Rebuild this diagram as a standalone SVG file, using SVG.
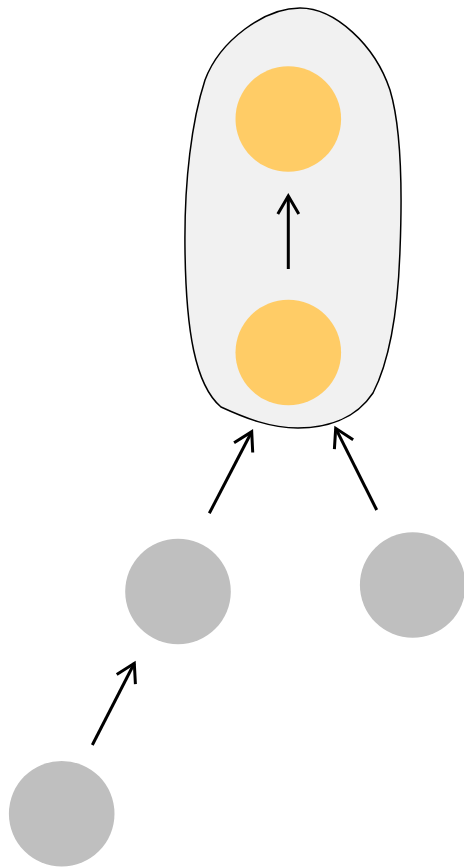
<svg xmlns="http://www.w3.org/2000/svg" width="464" height="867" viewBox="0 0 464 867">
<style>
.yellow{fill:#ffcc66}
.gray{fill:#bfbfbf}
.blob{fill:#f1f1f1;stroke:#000;stroke-width:1.5}
.edge{stroke:#000;stroke-width:3;fill:none;marker-end:url(#arr)}
</style>
<defs>
<marker id="arr" markerUnits="userSpaceOnUse" viewBox="-22 -14 26 28" markerWidth="26" markerHeight="28" refX="0" refY="0" orient="auto" overflow="visible">
<path d="M -18 -10.5 L 0 0 L -18 10.5" fill="none" stroke="#000" stroke-width="3"/>
</marker>
</defs>
<rect width="464" height="867" fill="#fff"/>
<g id="group-blob">
<path class="blob" d="M 300 8 C 335 8, 375 45, 390 90 C 402 130, 402 200, 400 250 C 398 310, 390 360, 373 393 C 355 420, 325 428, 298 428 C 270 428, 245 418, 221 407 C 195 385, 186 330, 185 250 C 184 180, 192 120, 205 80 C 220 40, 265 8, 300 8 Z"/>
</g>
<g id="node-top"><circle class="yellow" cx="288.3" cy="119" r="52.8"/></g>
<g id="node-bottom"><circle class="yellow" cx="288.3" cy="352.5" r="52.8"/></g>
<g id="node-a"><circle class="gray" cx="178" cy="591.5" r="52.8"/></g>
<g id="node-b"><circle class="gray" cx="412.7" cy="585" r="52.8"/></g>
<g id="node-c"><circle class="gray" cx="61.7" cy="813.7" r="52.8"/></g>
<g id="connectors">
<line class="edge" x1="288.3" y1="269" x2="288.3" y2="196"/>
<line class="edge" x1="209.3" y1="513.3" x2="251.7" y2="431.7"/>
<line class="edge" x1="376.7" y1="510" x2="335.7" y2="428.3"/>
<line class="edge" x1="92.3" y1="745" x2="134.3" y2="663.3"/>
</g>
</svg>
